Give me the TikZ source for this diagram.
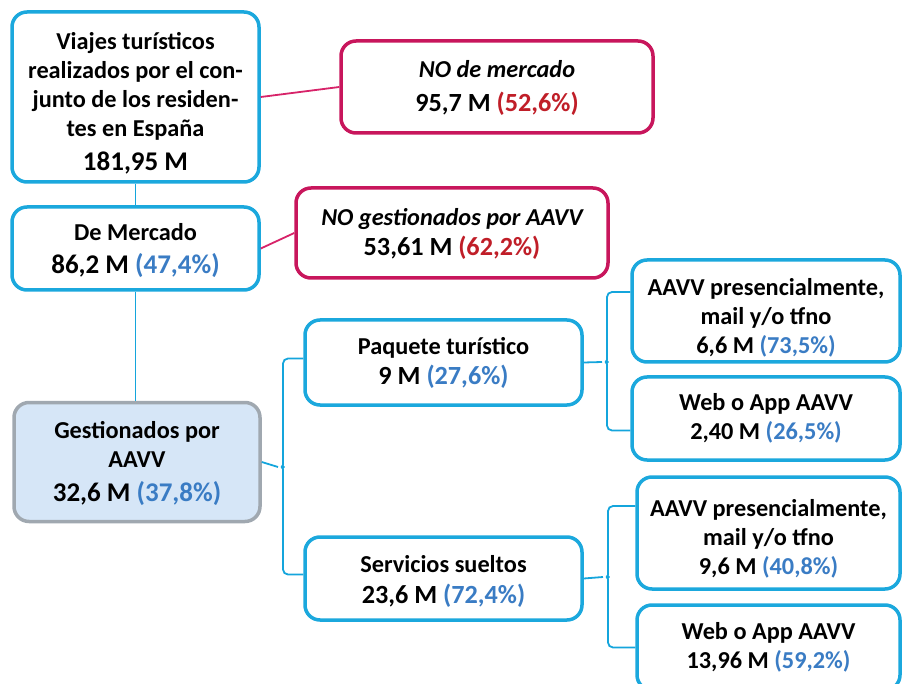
\documentclass[tikz,border=0pt]{standalone}
\usepackage{fontspec}
\usetikzlibrary{calc}
\setmainfont{Carlito}
\definecolor{cyanb}{RGB}{27,168,221}
\definecolor{magb}{RGB}{200,22,92}
\definecolor{pctblue}{RGB}{58,124,196}
\definecolor{pctred}{RGB}{192,30,40}
\definecolor{gestfill}{RGB}{214,230,247}
\definecolor{gestborder}{RGB}{160,168,176}
\definecolor{linec}{RGB}{20,165,220}
\definecolor{linem}{RGB}{215,35,105}
\newcommand{\pb}[1]{{\color{pctblue}(#1)}}
\newcommand{\pr}[1]{{\color{pctred}(#1)}}
\newcommand{\nb}{\fontsize{27}{29}\selectfont}
\newcommand{\nm}{\fontsize{26.2}{29}\selectfont}
\begin{document}
\begin{tikzpicture}[x=1pt,y=-1pt,
  box/.style={draw=cyanb, line width=3.5pt, rounded corners=15pt, inner sep=0pt, fill=white},
  magbox/.style={box, draw=magb},
  gbox/.style={box, draw=gestborder, fill=gestfill},
  txt/.style={align=center, inner sep=0pt, font=\fontsize{24.3}{29}\selectfont\bfseries},
  connc/.style={draw=linec, line width=1.8pt, rounded corners=5pt},
  connm/.style={draw=linem, line width=1.8pt}]
\useasboundingbox (0,0) rectangle (902,684);
\clip (0,0) rectangle (902,684);
% boxes
\node[box, minimum width=247pt, minimum height=170pt] (top) at (135.5,97) {};
\node[magbox, minimum width=312pt, minimum height=92pt] (nom) at (497,87) {};
\node[box, minimum width=247pt, minimum height=83pt] (dem) at (135.5,248.5) {};
\node[magbox, minimum width=312pt, minimum height=90pt] (nog) at (452,233) {};
\node[gbox, minimum width=246pt, minimum height=119pt] (gest) at (137,462) {};
\node[box, minimum width=277pt, minimum height=85pt] (paq) at (443.5,362.5) {};
\node[box, minimum width=277pt, minimum height=83pt] (ser) at (443.5,578.5) {};
\node[box, minimum width=268pt, minimum height=102pt] (b8) at (766,311) {};
\node[box, minimum width=268pt, minimum height=83pt] (b9) at (766,418.5) {};
\node[box, minimum width=263pt, minimum height=112pt] (b10) at (768.5,533) {};
\node[box, minimum width=263pt, minimum height=85pt] (b11) at (768.5,647.5) {};
% texts
\node[txt] (topt) at ([yshift=-6pt]top.center)
  {Viajes turísticos\\realizados por el con-\\junto de los residen-\\tes en España\\[5pt]{\nb 181,95 M}};
\node[txt] (nomt) at ([yshift=-1pt]nom.center)
  {\itshape NO de mercado\\[5pt]{\nm 95,7 M \pr{52,6\%}}};
\node[txt] (demt) at ([yshift=-2pt]dem.center)
  {De Mercado\\[4pt]{\nb 86,2 M \pb{47,4\%}}};
\node[txt] (nogt) at ([yshift=-1pt]nog.center)
  {\itshape NO gestionados por AAVV\\[1pt]{\nm 53,61 M \pr{62,2\%}}};
\node[txt] (gestt) at ([yshift=-1pt]gest.center)
  {Gestionados por\\AAVV\\[5pt]{\nb 32,6 M \pb{37,8\%}}};
\node[txt] (paqt) at (paq.center)
  {Paquete turístico\\[1pt]{\nm 9 M \pb{27,6\%}}};
\node[txt] (sert) at ([yshift=-3pt]ser.center)
  {Servicios sueltos\\[2pt]{\nm 23,6 M \pb{72,4\%}}};
\node[txt] (b8t) at ([yshift=-7pt]b8.center)
  {AAVV presencialmente,\\mail y/o tfno\\6,6 M \pb{73,5\%}};
\node[txt] (b9t) at (b9.center)
  {Web o App AAVV\\2,40 M \pb{26,5\%}};
\node[txt] (b10t) at ([yshift=-6pt]b10.center)
  {AAVV presencialmente,\\mail y/o tfno\\9,6 M \pb{40,8\%}};
\node[txt] (b11t) at (b11.center)
  {Web o App AAVV\\13,96 M \pb{59,2\%}};
% junctions (vertical line x, middle y) and brace tips
\coordinate (j1) at (283,467);
\coordinate (j2) at (607,362);
\coordinate (j3) at (608,577);
\coordinate (t1) at (278,467);
\coordinate (t2) at (602,362);
\coordinate (t3) at (603,577);
% connectors
\draw[connm] (top.east) -- (nom.west);
\draw[connm] (dem.east) -- (nog.west);
\draw[connc] (top.south) -- (dem.north);
\draw[connc] (dem.south) -- (dem.south |- gest.north);
\draw[connc] ([yshift=4pt]paq.west) -| ($(j1)+(0,-7)$)
  .. controls ($(j1)+(0,-2)$) and ($(j1)+(-2,0)$) .. (t1)
  .. controls ($(j1)+(-2,0)$) and ($(j1)+(0,2)$) .. ($(j1)+(0,7)$)
  |- ([yshift=4pt]ser.west);
\draw[connc] (gest.east) -- (t1);
\draw[connc] ([yshift=19pt]b8.west) -| ($(j2)+(0,-7)$)
  .. controls ($(j2)+(0,-2)$) and ($(j2)+(-2,0)$) .. (t2)
  .. controls ($(j2)+(-2,0)$) and ($(j2)+(0,2)$) .. ($(j2)+(0,7)$)
  |- ([yshift=-12pt]b9.west);
\draw[connc] (paq.east) -- (t2);
\draw[connc] ([yshift=27pt]b10.west) -| ($(j3)+(0,-7)$)
  .. controls ($(j3)+(0,-2)$) and ($(j3)+(-2,0)$) .. (t3)
  .. controls ($(j3)+(-2,0)$) and ($(j3)+(0,2)$) .. ($(j3)+(0,7)$)
  |- (b11.west);
\draw[connc] (ser.east) -- (t3);
\end{tikzpicture}
\end{document}
